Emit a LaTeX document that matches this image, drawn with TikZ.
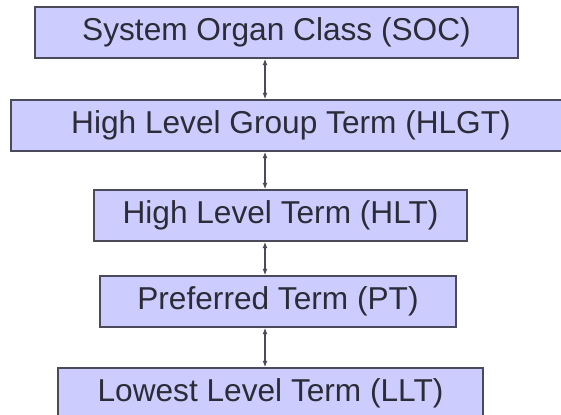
\documentclass[tikz,border=0pt]{standalone}
\usepackage{fontspec}
\setmainfont{Liberation Sans}
\usepackage{tikz}
\usepackage{xcolor}
\usetikzlibrary{arrows.meta, positioning, calc}
\definecolor{boxFill}{HTML}{CCCCFF}
\definecolor{boxLine}{HTML}{4A4A5A}
\definecolor{termInk}{HTML}{2C2C38}
\tikzset{
    termBox/.style={rectangle, draw=boxLine, fill=boxFill, line width=0.9pt, inner sep=0pt,
        minimum height=1.275cm, text=termInk, font=\fontsize{22.5}{27}\selectfont},
    linkArrow/.style={<->, draw=boxLine, line width=0.9pt}
}
\begin{document}
\begin{tikzpicture}[x=0.025cm, y=-0.025cm, >={Latex[length=1.6mm, width=1.2mm]}]
    \useasboundingbox (0,0) rectangle (561,415);
    \clip (0,0) rectangle (561,415);
    \coordinate (axis) at (265,0);
    \node[termBox, minimum width=12.075cm] (soc)  at (276.5,32.5)  {System Organ Class (SOC)};
    \node[termBox, minimum width=14cm]     (hlgt) at (291,125.5)   {High Level Group Term (HLGT)};
    \node[termBox, minimum width=9.325cm]  (hlt)  at (280.5,215.5) {High Level Term (HLT)};
    \node[termBox, minimum width=8.9cm]    (pt)   at (278,301.5)   {Preferred Term (PT)};
    \node[termBox, minimum width=10.625cm] (llt)  at (270.5,393.5) {Lowest Level Term (LLT)};
    \draw[linkArrow] (soc.south -| axis)  -- (hlgt.north -| axis);
    \draw[linkArrow] (hlgt.south -| axis) -- (hlt.north -| axis);
    \draw[linkArrow] (hlt.south -| axis)  -- (pt.north -| axis);
    \draw[linkArrow] (pt.south -| axis)   -- (llt.north -| axis);
\end{tikzpicture}
\end{document}
